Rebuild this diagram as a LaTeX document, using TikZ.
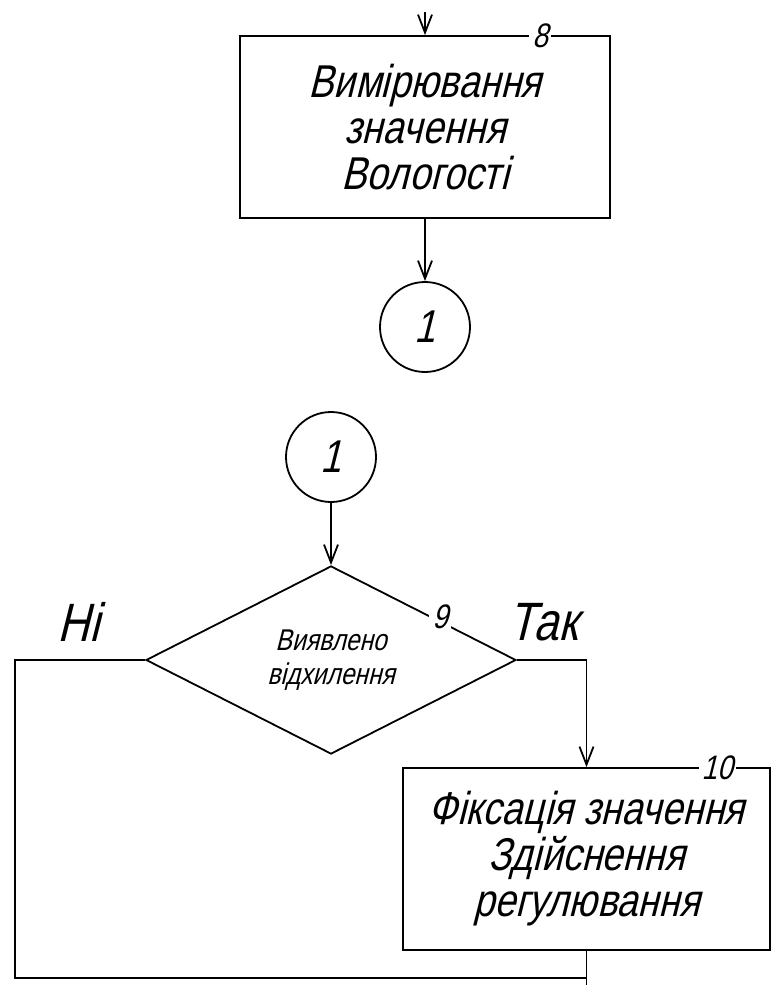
\documentclass[tikz,border=0pt]{standalone}
\usepackage{fontspec}
\newfontfamily\gostfont[FakeStretch=0.82,FakeSlant=0.25]{Liberation Sans}
\usetikzlibrary{arrows.meta,shapes.geometric}

\begin{document}
\begin{tikzpicture}[x=1pt, y=-1pt, line width=1.8pt, >={Straight Barb[length=18pt, width=14pt]},
	every node/.style={font=\gostfont\fontsize{46}{46}\selectfont},
	block/.style={draw, minimum width=370pt, minimum height=182pt, align=center},
	joint/.style={draw, circle, minimum size=90pt, inner sep=0pt},
	decision/.style={draw, diamond, minimum width=370pt, minimum height=180pt, inner sep=0pt, align=center, font=\gostfont\fontsize{30}{34}\selectfont},
	num/.style={fill=white, inner sep=3pt, font=\gostfont\fontsize{34}{34}\selectfont},
	branch/.style={font=\gostfont\fontsize{54}{54}\selectfont}]
	\useasboundingbox (0,0) rectangle (776,985);
	\node[block] (b8) at (425,127) {Вимірювання\\значення\\Вологості};
	\node[joint] (c1a) at (425,327) {1};
	\node[joint] (c1b) at (331,457) {1};
	\node[decision] (d9) at (331,660) {Виявлено\\відхилення};
	\node[block, minimum width=367pt] (b10) at (586.5,859) {Фіксація значення\\Здійснення\\регулювання};
	\node[branch] (no) at (78,622) {Ні};
	\node[branch] (yes) at (543,622) {Так};
	\coordinate (in) at (425,12);
	\coordinate (lb) at (15,978);
	\coordinate (out) at (586.5,985);
	\draw[->] (in) -- (b8.north);
	\draw[->] (b8.south) -- (c1a.north);
	\draw[->] (c1b.south) -- (d9.north);
	\draw[->] (d9.east) -| (b10.north);
	\draw (d9.west) -| (lb) -- (lb -| b10.south);
	\draw (b10.south) -- (out);
	% block numbers over the borders
	\node[num] (n8) at (540,36) {8};
	\node[num] (n9) at (440,617) {9};
	\node[num] (n10) at (717,768) {10};
\end{tikzpicture}
\end{document}
